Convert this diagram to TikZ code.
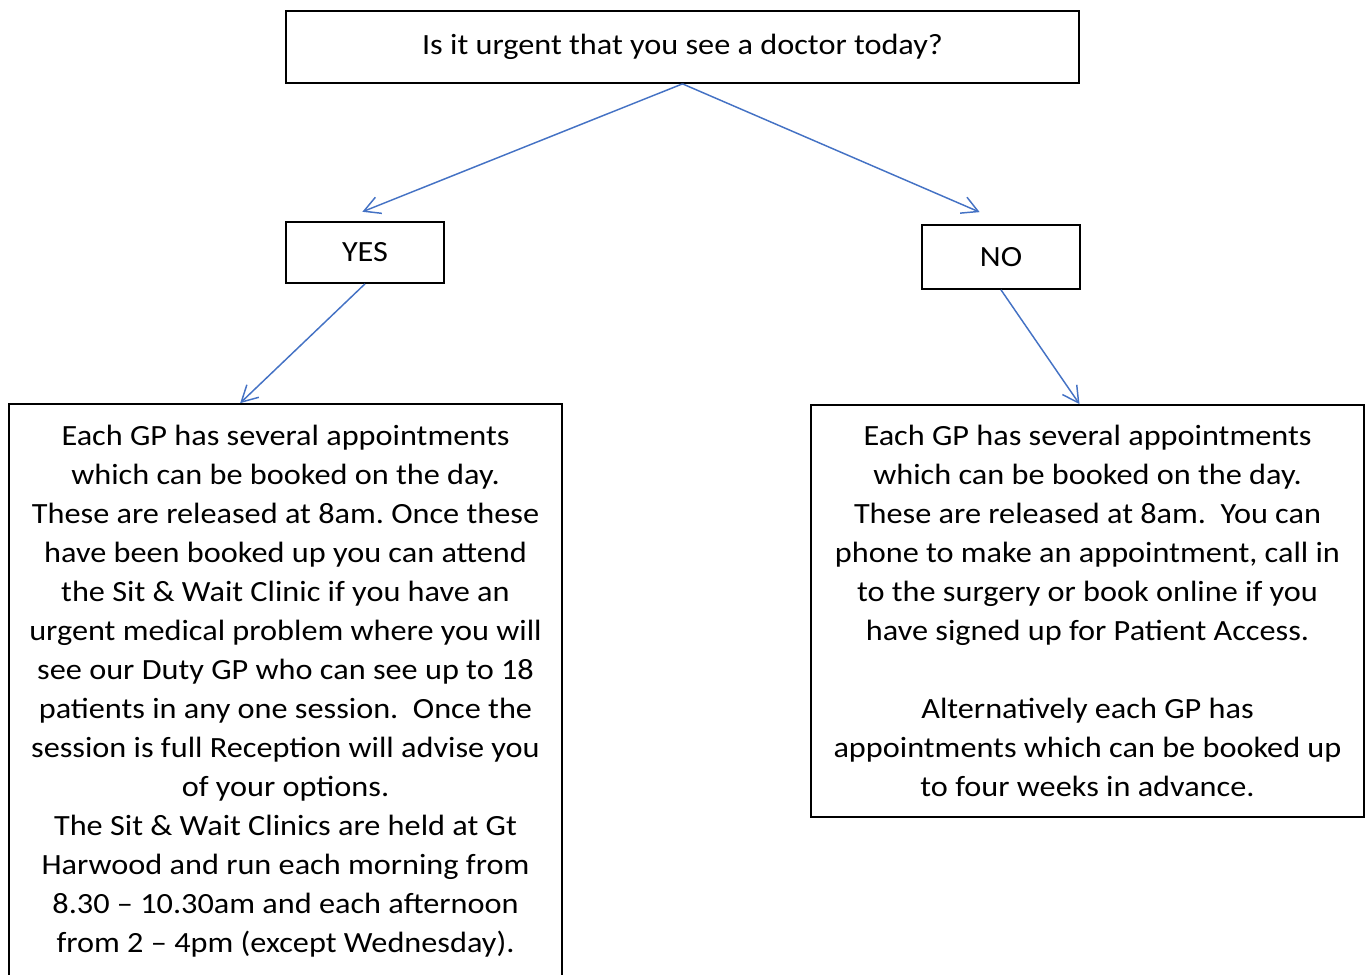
\documentclass[tikz,border=0pt]{standalone}
\usepackage{fontspec}
\setmainfont[FakeStretch=1.1]{Carlito}
\usetikzlibrary{arrows.meta}
\definecolor{arrowblue}{RGB}{68,114,196}
\frenchspacing
\tikzset{
  box/.style={draw=black, line width=1.3pt, align=center, inner sep=0pt,
    font=\fontsize{22}{29.25}\selectfont},
  conn/.style={draw=arrowblue, line width=1.1pt,
    -{Straight Barb[length=12pt,width=13pt,line width=1.1pt]}}
}
\begin{document}
\begin{tikzpicture}[x=0.75pt,y=-0.75pt]
\useasboundingbox (0,0) rectangle (1370,974);
\node[box, minimum width=594.75pt, minimum height=54pt] (top) at (682.5,47) {Is it urgent that you see a doctor today?};
\node[box, minimum width=118.5pt, minimum height=45.75pt] (yes) at (365,252.5) {YES};
\node[box, minimum width=118.5pt, minimum height=48pt] (no) at (1001,257) {NO};
\node[box, minimum width=414.75pt, minimum height=430.5pt] (left) at (285.5,691) {Each GP has several appointments\\
which can be booked on the day.\\
These are released at 8am. Once these\\
have been booked up you can attend\\
the Sit \& Wait Clinic if you have an\\
urgent medical problem where you will\\
see our Duty GP who can see up to 18\\
patients in any one session.\ \ Once the\\
session is full Reception will advise you\\
of your options.\\
The Sit \& Wait Clinics are held at Gt\\
Harwood and run each morning from\\
8.30 – 10.30am and each afternoon\\
from 2 – 4pm (except Wednesday).};
\node[box, minimum width=414.75pt, minimum height=309pt] (right) at (1087.5,611) {Each GP has several appointments\\
which can be booked on the day.\\
These are released at 8am.\ \ You can\\
phone to make an appointment, call in\\
to the surgery or book online if you\\
have signed up for Patient Access.\\
\\
Alternatively each GP has\\
appointments which can be booked up\\
to four weeks in advance.};
\draw[conn] (top.south) -- ([xshift=-2pt,yshift=7pt]yes.north);
\draw[conn] (top.south) -- ([xshift=-16pt,yshift=9pt]no.north);
\draw[conn] (yes.south) -- ([xshift=-34pt]left.north);
\draw[conn] (no.south) -- ([xshift=-6pt]right.north);
\end{tikzpicture}
\end{document}
